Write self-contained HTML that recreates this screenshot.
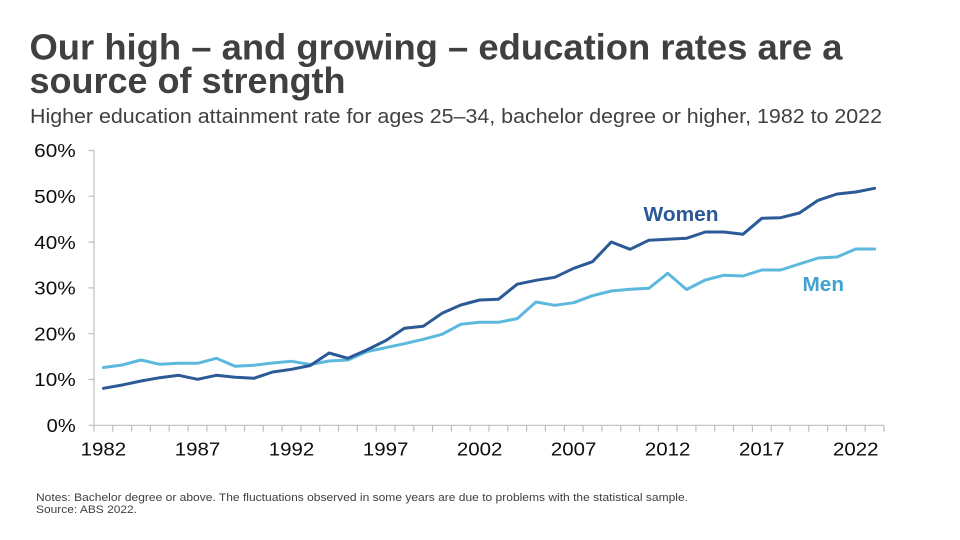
<!DOCTYPE html>
<html><head><meta charset="utf-8"><style>
html,body{margin:0;padding:0;background:#fff;}
svg{display:block;}
text{font-family:"Liberation Sans",Arial,sans-serif;}
</style></head><body>
<svg width="960" height="540" viewBox="0 0 960 540" xmlns="http://www.w3.org/2000/svg">
<rect width="960" height="540" fill="#fff"/>
<text x="29.5" y="59.5" font-size="36" font-weight="bold" fill="#404040" textLength="813" lengthAdjust="spacingAndGlyphs">Our high – and growing – education rates are a</text>
<text x="29.5" y="93" font-size="36" font-weight="bold" fill="#404040">source of strength</text>
<text x="30" y="123.2" font-size="20" fill="#404040" textLength="852" lengthAdjust="spacingAndGlyphs">Higher education attainment rate for ages 25–34, bachelor degree or higher, 1982 to 2022</text>

<!-- axes -->
<g stroke="#bfbfbf" stroke-width="1.2" fill="none">
<path d="M94 150.5V425.3H884"/>
<path d="M88.5 150.5H94M88.5 196.3H94M88.5 242.1H94M88.5 287.9H94M88.5 333.7H94M88.5 379.5H94M88.5 425.3H94"/>
<path d="M94 425.3v6.5M112.8 425.3v6.5M131.6 425.3v6.5M150.4 425.3v6.5M169.2 425.3v6.5M188.1 425.3v6.5M206.9 425.3v6.5M225.7 425.3v6.5M244.5 425.3v6.5M263.3 425.3v6.5M282.1 425.3v6.5M300.9 425.3v6.5M319.7 425.3v6.5M338.5 425.3v6.5M357.3 425.3v6.5M376.2 425.3v6.5M395 425.3v6.5M413.8 425.3v6.5M432.6 425.3v6.5M451.4 425.3v6.5M470.2 425.3v6.5M489 425.3v6.5M507.8 425.3v6.5M526.6 425.3v6.5M545.4 425.3v6.5M564.3 425.3v6.5M583.1 425.3v6.5M601.9 425.3v6.5M620.7 425.3v6.5M639.5 425.3v6.5M658.3 425.3v6.5M677.1 425.3v6.5M695.9 425.3v6.5M714.7 425.3v6.5M733.5 425.3v6.5M752.4 425.3v6.5M771.2 425.3v6.5M790 425.3v6.5M808.8 425.3v6.5M827.6 425.3v6.5M846.4 425.3v6.5M865.2 425.3v6.5M884 425.3v6.5"/>
</g>

<!-- y labels -->
<g font-size="18.5" fill="#0d0d0d" text-anchor="end">
<text x="75.7" y="157.2" textLength="41.5" lengthAdjust="spacingAndGlyphs">60%</text>
<text x="75.7" y="203" textLength="41.5" lengthAdjust="spacingAndGlyphs">50%</text>
<text x="75.7" y="248.8" textLength="41.5" lengthAdjust="spacingAndGlyphs">40%</text>
<text x="75.7" y="294.6" textLength="41.5" lengthAdjust="spacingAndGlyphs">30%</text>
<text x="75.7" y="340.4" textLength="41.5" lengthAdjust="spacingAndGlyphs">20%</text>
<text x="75.7" y="386.2" textLength="41.5" lengthAdjust="spacingAndGlyphs">10%</text>
<text x="75.7" y="432" textLength="29" lengthAdjust="spacingAndGlyphs">0%</text>
</g>

<!-- x labels -->
<g font-size="18.5" fill="#0d0d0d" text-anchor="middle">
<text x="103.4" y="455.7" textLength="45.5" lengthAdjust="spacingAndGlyphs">1982</text>
<text x="197.5" y="455.7" textLength="45.5" lengthAdjust="spacingAndGlyphs">1987</text>
<text x="291.5" y="455.7" textLength="45.5" lengthAdjust="spacingAndGlyphs">1992</text>
<text x="385.6" y="455.7" textLength="45.5" lengthAdjust="spacingAndGlyphs">1997</text>
<text x="479.6" y="455.7" textLength="45.5" lengthAdjust="spacingAndGlyphs">2002</text>
<text x="573.7" y="455.7" textLength="45.5" lengthAdjust="spacingAndGlyphs">2007</text>
<text x="667.7" y="455.7" textLength="45.5" lengthAdjust="spacingAndGlyphs">2012</text>
<text x="761.8" y="455.7" textLength="45.5" lengthAdjust="spacingAndGlyphs">2017</text>
<text x="855.8" y="455.7" textLength="45.5" lengthAdjust="spacingAndGlyphs">2022</text>
</g>

<!-- Men -->
<polyline fill="none" stroke="#5db8dd" stroke-width="3" stroke-linejoin="round" stroke-linecap="round"
points="103.4,367.5 122.2,365 141,360 159.8,364.3 178.6,363.3 197.5,363.3 216.3,358.3 235.1,366.3 253.9,365.3 272.7,363 291.5,361.3 310.3,364.5 329.1,361 347.9,360 366.7,351.7 385.6,347.7 404.4,343.7 423.2,339.3 442,334.3 460.8,324.3 479.6,322.3 498.4,322.3 517.2,318.6 536,302 554.8,305.3 573.7,302.7 592.5,295.7 611.3,291 630.1,289.3 648.9,288.3 667.7,273.3 686.5,289.5 705.3,280 724.1,275.2 742.9,276 761.8,270 780.6,270 799.4,264 818.2,258 837,257 855.8,249 874.6,249"/>
<!-- Women -->
<polyline fill="none" stroke="#2c5a96" stroke-width="3" stroke-linejoin="round" stroke-linecap="round"
points="103.4,388.3 122.2,385 141,381 159.8,377.7 178.6,375.3 197.5,379.3 216.3,375.3 235.1,377.3 253.9,378.3 272.7,372 291.5,369.3 310.3,365.5 329.1,353 347.9,358.3 366.7,350 385.6,340.7 404.4,328.3 423.2,326.3 442,313.3 460.8,305 479.6,300 498.4,299.3 517.2,284.2 536,280.3 554.8,277.3 573.7,268.3 592.5,261.7 611.3,242 630.1,249.3 648.9,240.2 667.7,239.2 686.5,238.3 705.3,232 724.1,232 742.9,234.3 761.8,218.3 780.6,217.7 799.4,213 818.2,200.3 837,194 855.8,192 874.6,188.3"/>

<text x="643.5" y="221" font-size="20.5" font-weight="bold" fill="#2b5797" textLength="75" lengthAdjust="spacingAndGlyphs">Women</text>
<text x="802.5" y="291" font-size="20.5" font-weight="bold" fill="#3fa2cf" textLength="41.5" lengthAdjust="spacingAndGlyphs">Men</text>

<text x="36" y="501" font-size="11" fill="#404040" textLength="652" lengthAdjust="spacingAndGlyphs">Notes: Bachelor degree or above. The fluctuations observed in some years are due to problems with the statistical sample.</text>
<text x="36" y="513" font-size="11" fill="#404040" textLength="101" lengthAdjust="spacingAndGlyphs">Source: ABS 2022.</text>
</svg>
</body></html>
